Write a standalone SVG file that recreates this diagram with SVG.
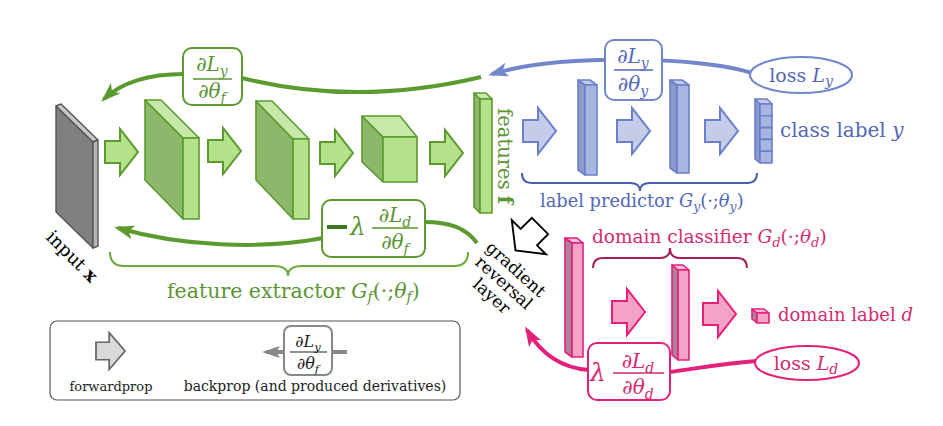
<svg xmlns="http://www.w3.org/2000/svg" width="943" height="426" viewBox="0 0 943 426" font-family="'DejaVu Serif', 'Liberation Serif', serif">
<defs>
<style>
.it{font-style:italic}
.gs{stroke:#5b9a2e;stroke-width:1.6;stroke-linejoin:round}
.gside{fill:#8db86c}
.gtop{fill:#c6e9a8}
.gfront{fill:#b3e28b}
.garrow{fill:#b3e28b;stroke:#5b9a2e;stroke-width:2;stroke-linejoin:miter}
.bs{stroke:#6a80c8;stroke-width:1.6;stroke-linejoin:round}
.bside{fill:#8c9acb}
.btop{fill:#c3cbe9}
.bfront{fill:#a9b5e1}
.barrow{fill:#c4cce9;stroke:#6a80c8;stroke-width:2}
.ps{stroke:#e4207a;stroke-width:1.6;stroke-linejoin:round}
.pside{fill:#b0819a}
.ptop{fill:#f7bcd7}
.pfront{fill:#f4a3c7}
.parrow{fill:#f4a3c7;stroke:#e4207a;stroke-width:2}
.dbox{fill:#fff;stroke-width:2}
.gtxt{fill:#5a9432}
.btxt{fill:#5468b6}
.ptxt{fill:#d42a70}
.curve{fill:none;stroke-width:4;stroke-linecap:butt}
</style>
<path id="fa" d="M0,-11H15V-23L33,0L15,23V11H0Z"/>
<marker id="mg" markerUnits="userSpaceOnUse" markerWidth="20" markerHeight="16" viewBox="0 0 20 16" refX="16" refY="8" orient="auto"><path d="M0,1L20,8L0,15L5,8Z" fill="#5b9a2e"/></marker>
<marker id="mb" markerUnits="userSpaceOnUse" markerWidth="20" markerHeight="16" viewBox="0 0 20 16" refX="16" refY="8" orient="auto"><path d="M0,1L20,8L0,15L5,8Z" fill="#7286cc"/></marker>
<marker id="mp" markerUnits="userSpaceOnUse" markerWidth="20" markerHeight="16" viewBox="0 0 20 16" refX="16" refY="8" orient="auto"><path d="M0,1L20,8L0,15L5,8Z" fill="#e4207a"/></marker>
<marker id="mk" markerUnits="userSpaceOnUse" markerWidth="18" markerHeight="14" viewBox="0 0 18 14" refX="14" refY="7" orient="auto"><path d="M0,1L18,7L0,13L4,7Z" fill="#888"/></marker>
</defs>
<rect width="943" height="426" fill="#fff"/>

<g id="connectors">
  <path class="curve" stroke="#7286cc" d="M752,73 C700,56 560,54 492,74" marker-end="url(#mb)"/>
  <path class="curve" stroke="#5b9a2e" d="M481,77 C410,94 330,100 242,78"/>
  <path class="curve" stroke="#5b9a2e" d="M184,74 C145,74 120,84 104,99" marker-end="url(#mg)"/>
  <path class="curve" stroke="#5b9a2e" d="M477,243 C466,228 450,222 424,222"/>
  <path class="curve" stroke="#5b9a2e" d="M323,238 C260,250 180,246 118,228" marker-end="url(#mg)"/>
  <path class="curve" stroke="#e4207a" d="M756,361 C720,364 700,368 669,372"/>
  <path class="curve" stroke="#e4207a" d="M589,370 C560,368 540,352 527,330" marker-end="url(#mp)"/>
</g>

<g id="input">
  <polygon points="56,106 93,142 93,248 56,212" fill="#808080" stroke="#555" stroke-width="1.4" stroke-linejoin="round"/>
  <polygon points="56,106 61,104 98,140 93,142" fill="#c8c8c8" stroke="#555" stroke-width="1.4" stroke-linejoin="round"/>
  <polygon points="93,142 98,140 98,246 93,248" fill="#b5b5b5" stroke="#555" stroke-width="1.4" stroke-linejoin="round"/>
  <text x="45" y="238" font-size="18" transform="rotate(45 45 238)">input <tspan font-weight="bold">x</tspan></text>
</g>

<g id="fwd-arrows-f">
  <use href="#fa" class="garrow" transform="translate(105,152)"/>
  <use href="#fa" class="garrow" transform="translate(208,151)"/>
  <use href="#fa" class="garrow" transform="translate(320,153)"/>
  <use href="#fa" class="garrow" transform="translate(430,153)"/>
</g>

<g id="conv1" class="gs">
  <polygon class="gside" points="145,100 183,138 183,219 145,180"/>
  <polygon class="gtop" points="145,100 161,100 199,138 183,138"/>
  <rect class="gfront" x="183" y="138" width="16" height="81"/>
</g>
<g id="conv2" class="gs">
  <polygon class="gside" points="256,101 293,139 293,219 256,180"/>
  <polygon class="gtop" points="256,101 272,101 309,139 293,139"/>
  <rect class="gfront" x="293" y="139" width="16" height="80"/>
</g>
<g id="conv3" class="gs">
  <polygon class="gside" points="362,116 383,137 383,182 362,162"/>
  <polygon class="gtop" points="362,116 400,116 417,137 383,137"/>
  <rect class="gfront" x="383" y="137" width="34" height="45"/>
</g>
<g id="features" class="gs">
  <polygon class="gside" points="474,93 480,99 480,213 474,207"/>
  <polygon class="gtop" points="474,93 486,93 492,99 480,99"/>
  <rect class="gfront" x="480" y="99" width="12" height="114"/>
  <text class="gtxt" x="498" y="108" font-size="19.5" stroke="none" transform="rotate(90 498 108)">features <tspan font-weight="bold">f</tspan></text>
</g>

<g id="deriv-f-y">
  <rect class="dbox" stroke="#5b9a2e" x="183" y="48" width="59" height="57" rx="9"/>
  <text class="gtxt" x="212" y="71" font-size="20" text-anchor="middle">∂<tspan class="it">L</tspan><tspan class="it" font-size="14" dy="5">y</tspan></text>
  <path d="M193,79H232" stroke="#5a9432" stroke-width="1.4"/>
  <text class="gtxt" x="212" y="98" font-size="20" text-anchor="middle">∂<tspan class="it">θ</tspan><tspan class="it" font-size="14" dy="5">f</tspan></text>
</g>

<g id="deriv-f-d">
  <rect class="dbox" stroke="#5b9a2e" x="322" y="200" width="103" height="57" rx="9"/>
  <rect x="327" y="225" width="20" height="4" fill="#3d7a1c"/>
  <text class="gtxt it" x="350" y="235" font-size="25">λ</text>
  <text class="gtxt" x="395" y="222" font-size="20" text-anchor="middle">∂<tspan class="it">L</tspan><tspan class="it" font-size="14" dy="5">d</tspan></text>
  <path d="M372,228H418" stroke="#5a9432" stroke-width="1.4"/>
  <text class="gtxt" x="395" y="249" font-size="20" text-anchor="middle">∂<tspan class="it">θ</tspan><tspan class="it" font-size="14" dy="5">f</tspan></text>
</g>

<g id="feature-extractor-brace">
  <path d="M110,252 Q110,266 124,266 L274,266 Q288,266 288,276 Q288,266 302,266 L454,266 Q468,266 468,252" fill="none" stroke="#6aaa3a" stroke-width="2"/>
  <text class="gtxt" x="167" y="298" font-size="20.5">feature extractor <tspan class="it">G</tspan><tspan class="it" font-size="14" dy="4">f</tspan><tspan dy="-4">(·;</tspan><tspan class="it">θ</tspan><tspan class="it" font-size="14" dy="4">f</tspan><tspan dy="-4">)</tspan></text>
</g>

<g id="label-predictor">
  <use href="#fa" class="barrow" transform="translate(523,131)"/>
  <g class="bs">
    <polygon class="bside" points="578,80 585,85 585,175 578,170"/>
    <polygon class="btop" points="578,80 590,80 597,85 585,85"/>
    <rect class="bfront" x="585" y="85" width="12" height="90"/>
  </g>
  <use href="#fa" class="barrow" transform="translate(617,131)"/>
  <g class="bs">
    <polygon class="bside" points="670,80 677,85 677,173 670,168"/>
    <polygon class="btop" points="670,80 682,80 689,85 677,85"/>
    <rect class="bfront" x="677" y="85" width="12" height="88"/>
  </g>
  <use href="#fa" class="barrow" transform="translate(705,131)"/>
  <path d="M522,173 Q522,183 532,183 L630,183 Q640,183 640,191 Q640,183 650,183 L747,183 Q757,183 757,173" fill="none" stroke="#4a5fab" stroke-width="2"/>
  <text class="btxt" x="540" y="207" font-size="17.8">label predictor <tspan class="it">G</tspan><tspan class="it" font-size="12.5" dy="4">y</tspan><tspan dy="-4">(·;</tspan><tspan class="it">θ</tspan><tspan class="it" font-size="12.5" dy="4">y</tspan><tspan dy="-4">)</tspan></text>
</g>

<g id="class-label" class="bs">
  <polygon class="bside" points="755,99 760,104 760,163 755,159"/>
  <polygon class="btop" points="755,99 767,99 772,104 760,104"/>
  <rect class="bfront" x="760" y="104" width="12" height="11.8"/>
  <rect class="bfront" x="760" y="115.8" width="12" height="11.8"/>
  <rect class="bfront" x="760" y="127.6" width="12" height="11.8"/>
  <rect class="bfront" x="760" y="139.4" width="12" height="11.8"/>
  <rect class="bfront" x="760" y="151.2" width="12" height="11.8"/>
  <text class="btxt" x="780" y="137" font-size="20" stroke="none">class label <tspan class="it">y</tspan></text>
</g>

<g id="deriv-y">
  <rect class="dbox" stroke="#7286cc" x="605" y="40" width="57" height="60" rx="9"/>
  <text class="btxt" x="633" y="63" font-size="20" text-anchor="middle">∂<tspan class="it">L</tspan><tspan class="it" font-size="14" dy="5">y</tspan></text>
  <path d="M614,70H653" stroke="#5468b6" stroke-width="1.4"/>
  <text class="btxt" x="633" y="91" font-size="20" text-anchor="middle">∂<tspan class="it">θ</tspan><tspan class="it" font-size="14" dy="5">y</tspan></text>
</g>

<g id="loss-y">
  <ellipse cx="801" cy="75" rx="51" ry="18" fill="#fff" stroke="#7286cc" stroke-width="2"/>
  <text class="btxt" x="801" y="82" font-size="19" text-anchor="middle">loss <tspan class="it">L</tspan><tspan class="it" font-size="14" dy="4">y</tspan></text>
</g>

<g id="grl">
  <use href="#fa" fill="#fff" stroke="#000" stroke-width="1.8" transform="translate(540,226) rotate(135) scale(1.05)"/>
  <g transform="translate(500,287) rotate(42)" font-size="17" text-anchor="middle" fill="#000">
    <text x="0" y="-18">gradient</text>
    <text x="0" y="0">reversal</text>
    <text x="0" y="18">layer</text>
  </g>
</g>

<g id="domain-classifier">
  <g class="ps">
    <polygon class="pside" points="565,238 572,243 572,357 565,352"/>
    <polygon class="ptop" points="565,238 577,238 583,243 572,243"/>
    <rect class="pfront" x="572" y="243" width="11" height="114"/>
  </g>
  <use href="#fa" class="parrow" transform="translate(612,312)"/>
  <g class="ps">
    <polygon class="pside" points="672,265 678,270 678,360 672,355"/>
    <polygon class="ptop" points="672,265 683,265 689,270 678,270"/>
    <rect class="pfront" x="678" y="270" width="11" height="90"/>
  </g>
  <use href="#fa" class="parrow" transform="translate(703,314)"/>
  <path d="M593,268 Q593,258 603,258 L660,258 Q670,258 670,248 Q670,258 680,258 L737,258 Q747,258 747,268" fill="none" stroke="#a4205c" stroke-width="2"/>
  <text class="ptxt" x="592" y="243" font-size="18.5">domain classifier <tspan class="it">G</tspan><tspan class="it" font-size="13" dy="4">d</tspan><tspan dy="-4">(·;</tspan><tspan class="it">θ</tspan><tspan class="it" font-size="13" dy="4">d</tspan><tspan dy="-4">)</tspan></text>
</g>

<g id="domain-label">
  <g class="ps">
    <polygon class="pside" points="752,309 757,313 757,323 752,319"/>
    <polygon class="ptop" points="752,309 764,309 769,313 757,313"/>
    <rect class="pfront" x="757" y="313" width="12" height="10"/>
  </g>
  <text class="ptxt" x="778" y="321" font-size="18">domain label <tspan class="it">d</tspan></text>
</g>

<g id="deriv-d">
  <rect class="dbox" stroke="#e4207a" x="588" y="343" width="82" height="57" rx="9"/>
  <text class="ptxt it" x="590" y="381" font-size="25">λ</text>
  <text class="ptxt" x="638" y="368" font-size="20" text-anchor="middle">∂<tspan class="it">L</tspan><tspan class="it" font-size="14" dy="5">d</tspan></text>
  <path d="M613,373H664" stroke="#d42a70" stroke-width="1.4"/>
  <text class="ptxt" x="638" y="394" font-size="20" text-anchor="middle">∂<tspan class="it">θ</tspan><tspan class="it" font-size="14" dy="5">d</tspan></text>
</g>

<g id="loss-d">
  <ellipse cx="807" cy="363" rx="52" ry="17" fill="#fff" stroke="#e4207a" stroke-width="2"/>
  <text class="ptxt" x="806" y="370" font-size="19" text-anchor="middle">loss <tspan class="it">L</tspan><tspan class="it" font-size="14" dy="4">d</tspan></text>
</g>

<g id="legend">
  <rect x="50" y="321" width="410" height="79" rx="7" fill="none" stroke="#555" stroke-width="1.2"/>
  <use href="#fa" fill="#d9d9d9" stroke="#666" stroke-width="2" transform="translate(96,351) scale(0.88 0.8)"/>
  <text x="111" y="391" font-size="13" text-anchor="middle" fill="#222">forwardprop</text>
  <path d="M347,352H332" stroke="#888" stroke-width="4"/>
  <path d="M284,352H266" stroke="#888" stroke-width="4" marker-end="url(#mk)"/>
  <rect x="284" y="326" width="48" height="49" rx="7" fill="#fff" stroke="#888" stroke-width="2"/>
  <text x="308" y="347" font-size="16" text-anchor="middle" fill="#222">∂<tspan class="it">L</tspan><tspan class="it" font-size="11.5" dy="4">y</tspan></text>
  <path d="M290,352H327" stroke="#222" stroke-width="1.2"/>
  <text x="308" y="369" font-size="16" text-anchor="middle" fill="#222">∂<tspan class="it">θ</tspan><tspan class="it" font-size="11.5" dy="4">f</tspan></text>
  <text x="315" y="391" font-size="14" text-anchor="middle" fill="#222">backprop (and produced derivatives)</text>
</g>
</svg>
